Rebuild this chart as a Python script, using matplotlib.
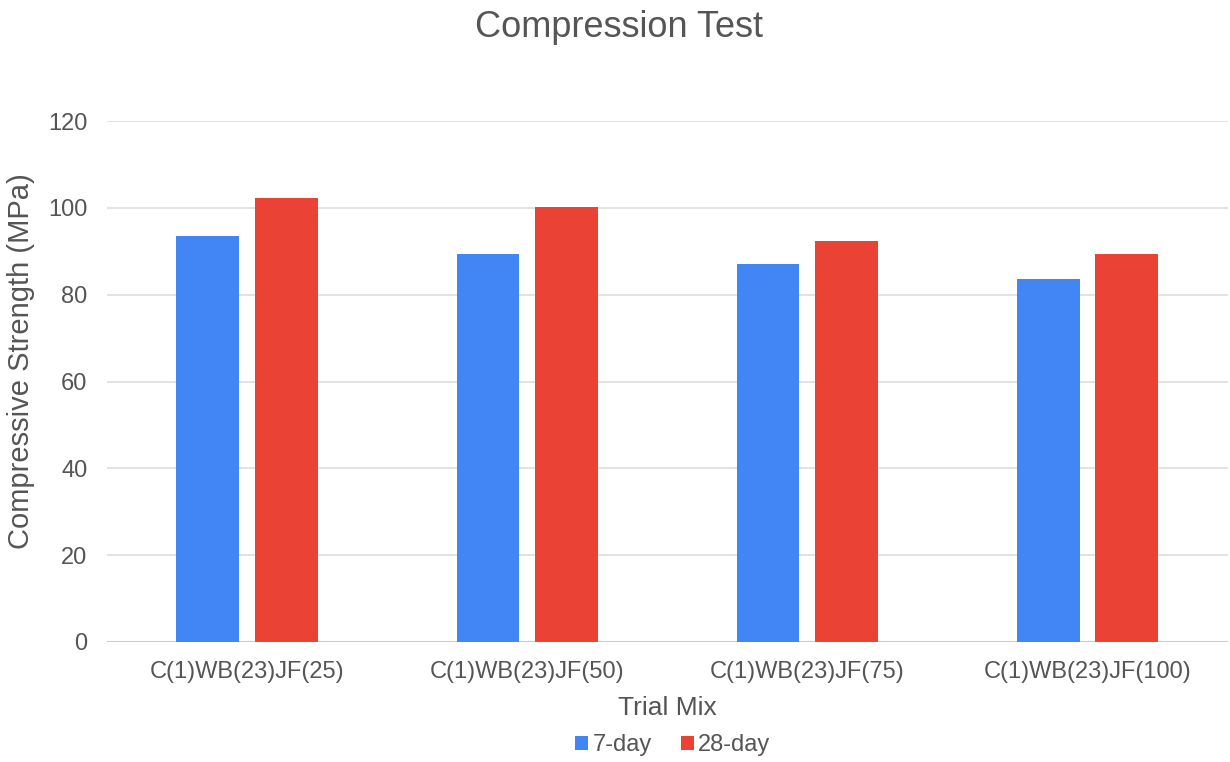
import numpy as np
import matplotlib
matplotlib.use('Agg')
import matplotlib.pyplot as plt

plt.rcParams['font.family'] = ['Liberation Sans', 'DejaVu Sans']

mixes = ['C(1)WB(23)JF(25)', 'C(1)WB(23)JF(50)', 'C(1)WB(23)JF(75)', 'C(1)WB(23)JF(100)']
day7 = [93.5, 89.4, 87.2, 83.6]
day28 = [102.3, 100.2, 92.5, 89.4]
yticks = [0, 20, 40, 60, 80, 100, 120]

blue = '#4285F4'
red = '#EA4335'
txt = '#555555'

fig = plt.figure(figsize=(12.3, 7.62), dpi=100)
ax = fig.add_axes([0.087, 0.1575, 0.911, 0.6835])

x = np.arange(len(mixes))
w = 0.224
ax.bar(x - 0.14, day7, w, color=blue, label='7-day', zorder=3)
ax.bar(x + 0.14, day28, w, color=red, label='28-day', zorder=3)

ax.set_xlim(-0.5, len(mixes) - 0.5)
ax.set_ylim(0, 120)
ax.set_yticks(yticks)
ax.set_xticks(x)
ax.set_xticklabels(mixes)
ax.grid(axis='y', color='#dddddd', linewidth=1.2, zorder=0)
ax.axhline(0, color='#cccccc', linewidth=1.5, zorder=2)
for s in ax.spines.values():
    s.set_visible(False)
ax.tick_params(length=0, labelsize=17, colors=txt)
ax.tick_params(axis='x', pad=14)
ax.tick_params(axis='y', pad=14)

ax.set_xlabel('Trial Mix', fontsize=19, color=txt, labelpad=9)
ax.set_ylabel('Compressive Strength (MPa)', fontsize=21, color=txt)
ax.yaxis.set_label_coords(-0.064, 0.54)
fig.text(0.503, 0.964, 'Compression Test', fontsize=26, color=txt, ha='center', va='center')

ax.legend(loc='center', bbox_to_anchor=(0.505, -0.198), ncol=2, frameon=False,
          fontsize=17, handlelength=0.55, handleheight=0.55, handletextpad=0.2,
          columnspacing=1.2, labelcolor=txt)

fig.savefig('out.png', dpi=100)
